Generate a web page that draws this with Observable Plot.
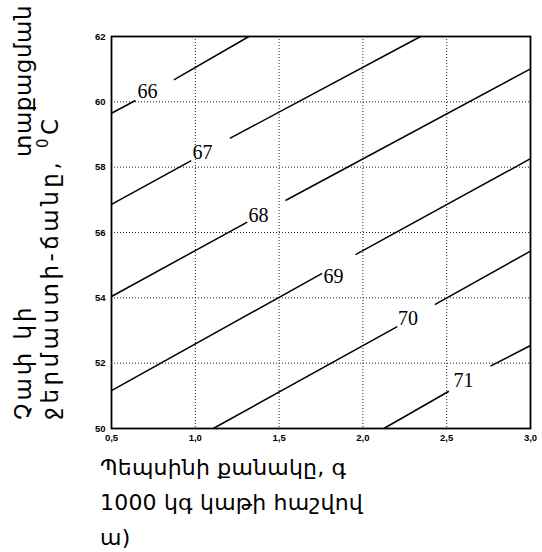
<!DOCTYPE html>
<html>
<head>
<meta charset="utf-8">
<script src="https://cdn.jsdelivr.net/npm/d3@7"></script>
<script src="https://cdn.jsdelivr.net/npm/@observablehq/plot@0.6"></script>
<style>
  body { margin: 0; background: #fff; }
  #wrap { width: 542px; position: relative; }
  #xlabel { font-family: "DejaVu Sans", sans-serif; font-size: 22px; line-height: 35px; padding-left: 100px; margin-top: 0; color: #000; white-space: pre; letter-spacing: 0.2px; }
</style>
</head>
<body>
<div id="wrap"></div>
<script>
// contour levels and their line geometry (x: pepsin amount, y: temperature)
const levels    = [66, 67, 68, 69, 70, 71];
const startX    = [0.5, 0.5, 0.5, 0.5, 1.107, 2.125];
const startY    = [59.65, 56.86, 54.04, 51.16, 50, 50];
const gapStartX = [0.643, 0.976, 1.310, 1.757, 2.205, 2.513];
const gapStartY = [60.04, 58.20, 56.32, 54.75, 53.12, 51.14];
const gapEndX   = [0.872, 1.206, 1.538, 1.956, 2.429, 2.761];
const gapEndY   = [60.67, 58.88, 56.98, 55.32, 53.79, 51.91];
const endX      = [1.32, 2.344, 3.0, 3.0, 3.0, 3.0];
const endY      = [62, 62, 61.01, 58.26, 55.43, 52.54];
const labelX    = [0.715, 1.043, 1.377, 1.825, 2.269, 2.600];
const labelY    = [60.32, 58.45, 56.52, 54.64, 53.35, 51.47];

const xTicks = [0.5, 1.0, 1.5, 2.0, 2.5, 3.0];
const yTicks = [50, 52, 54, 56, 58, 60, 62];
const xGrid = [1.0, 1.5, 2.0, 2.5];
const yGrid = [52, 54, 56, 58, 60];

const yLabelLine1a = "Չափ կի";
const yLabelLine1b = "տաքացման";
const yLabelLine2 = "ջերմաստի-ճանը, ";
const xLabelLines = ["Պեպսինի քանակը, գ", "1000 կգ կաթի հաշվով", "ա)"];

const segments = [];
levels.forEach((lv, i) => {
  segments.push({x1: startX[i], y1: startY[i], x2: gapStartX[i], y2: gapStartY[i], level: lv});
  segments.push({x1: gapEndX[i], y1: gapEndY[i], x2: endX[i], y2: endY[i], level: lv});
});
const labels = levels.map((lv, i) => ({x: labelX[i], y: labelY[i], text: String(lv)}));

const fmt = d => d3.format(".1f")(d).replace(".", ",");

const plot = Plot.plot({
  width: 542,
  height: 450,
  marginLeft: 111,
  marginRight: 12,
  marginTop: 36,
  marginBottom: 22,
  style: {background: "#fff", color: "#000"},
  x: {domain: [0.5, 3.0], ticks: xTicks, tickFormat: fmt, tickSize: 0, tickPadding: 6, label: null},
  y: {domain: [50, 62], ticks: yTicks, tickSize: 0, tickPadding: 7, label: null},
  marks: [
    Plot.ruleX(xGrid, {stroke: "#222", strokeWidth: 1, strokeDasharray: "1,2"}),
    Plot.ruleY(yGrid, {stroke: "#222", strokeWidth: 1, strokeDasharray: "1,2"}),
    Plot.link(segments, {x1: "x1", y1: "y1", x2: "x2", y2: "y2", stroke: "#000", strokeWidth: 1.5}),
    Plot.text(labels, {x: "x", y: "y", text: "text", fontSize: 20, fontFamily: "Liberation Serif, serif", fill: "#000"}),
    Plot.frame({stroke: "#000", strokeWidth: 1.8}),
    Plot.axisX({ticks: xTicks, tickFormat: fmt, tickSize: 0, tickPadding: 6, fontSize: 9.5, fontWeight: "bold", fontFamily: "Liberation Sans Narrow, Liberation Sans, sans-serif", label: null}),
    Plot.axisY({ticks: yTicks, tickSize: 0, tickPadding: 6, fontSize: 9.5, fontWeight: "bold", fontFamily: "Liberation Sans Narrow, Liberation Sans, sans-serif", label: null})
  ]
});

document.getElementById("wrap").appendChild(plot);

// rotated y-axis label (two lines, first justified)
const svg = d3.select(plot);
const g = svg.append("g")
  .attr("font-family", "DejaVu Sans, sans-serif")
  .attr("font-size", 23)
  .attr("fill", "#000");
g.append("text").attr("transform", "translate(31,420) rotate(-90)").attr("text-anchor", "start").attr("letter-spacing", 3).text(yLabelLine1a);
g.append("text").attr("transform", "translate(31,5) rotate(-90)").attr("text-anchor", "end").attr("letter-spacing", 0.5).text(yLabelLine1b);
const t2 = g.append("text").attr("transform", "translate(58,420) rotate(-90)").attr("text-anchor", "start").attr("letter-spacing", 3.5);
t2.append("tspan").text(yLabelLine2);
t2.append("tspan").attr("font-size", 15).attr("dy", -10).text("0");
t2.append("tspan").attr("dy", 10).text("C");

const xl = document.createElement("div");
xl.id = "xlabel";
xl.textContent = xLabelLines.join("\n");
document.getElementById("wrap").appendChild(xl);
</script>
</body>
</html>
